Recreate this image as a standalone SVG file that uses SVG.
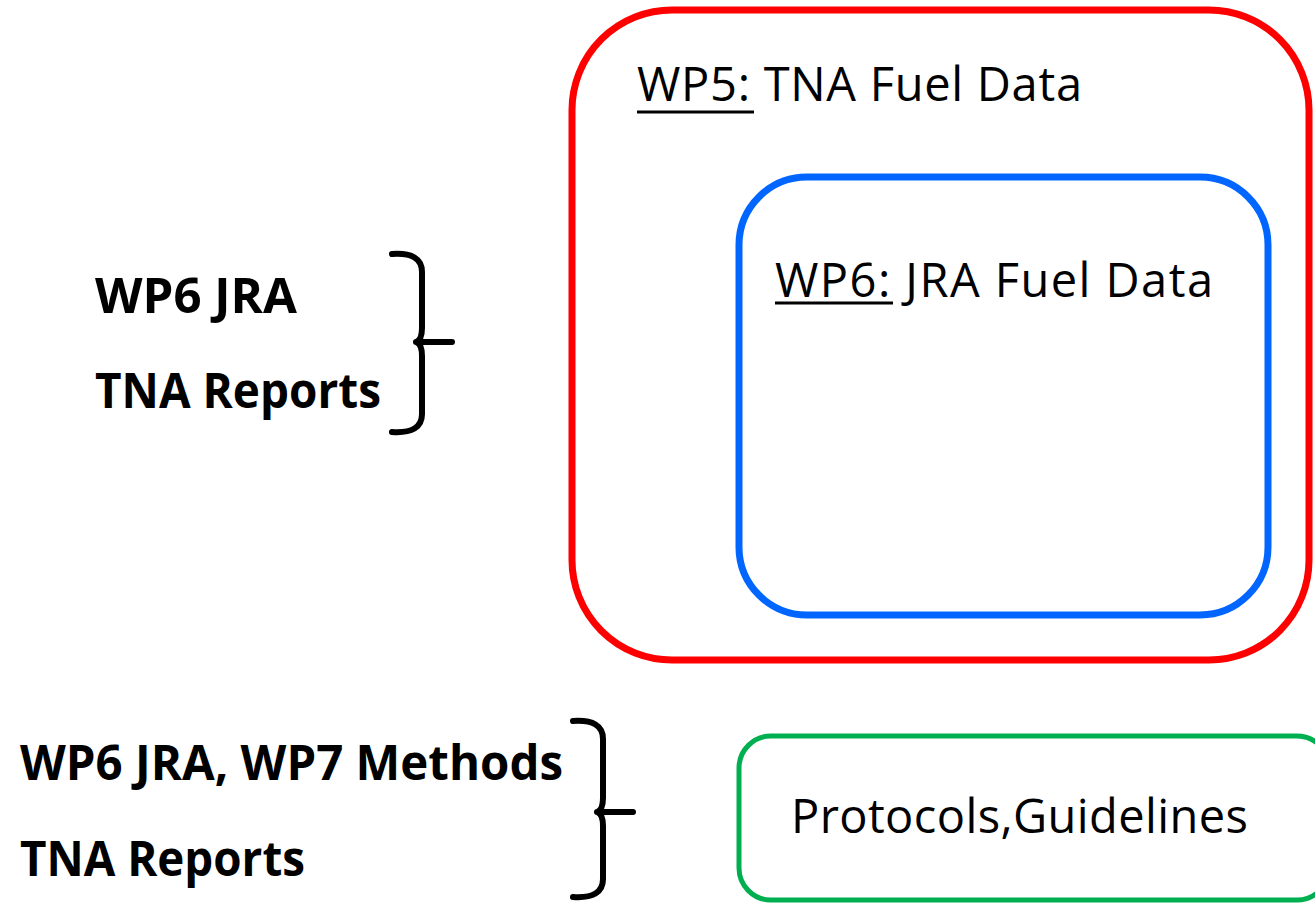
<svg xmlns="http://www.w3.org/2000/svg" width="1315" height="903" viewBox="0 0 1315 903">
  <style>
    .t { font-family: "Open Sans", "Noto Sans", sans-serif; font-size: 47px; fill: #000; }
    .b { font-family: "Open Sans", "Noto Sans", sans-serif; font-size: 48px; font-weight: bold; fill: #000; }
    .brace { fill: none; stroke: #000; stroke-width: 6; stroke-linecap: round; stroke-linejoin: round; }
    .u { stroke: #000; stroke-width: 3; }
  </style>
  <rect width="1315" height="903" fill="#fff"/>
  <g id="wp5">
    <rect x="572" y="10" width="737" height="650" rx="100" ry="100" fill="none" stroke="#ff0000" stroke-width="7"/>
    <text class="t" x="637" y="101" textLength="445" lengthAdjust="spacing">WP5: TNA Fuel Data</text>
    <line class="u" x1="637" y1="112" x2="754" y2="112"/>
  </g>
  <g id="wp6">
    <rect x="739" y="177" width="529" height="438" rx="68" ry="68" fill="none" stroke="#0066ff" stroke-width="7"/>
    <text class="t" x="775" y="297" textLength="438" lengthAdjust="spacing">WP6: JRA Fuel Data</text>
    <line class="u" x1="775" y1="303" x2="893" y2="303"/>
  </g>
  <g id="protocols">
    <rect x="739" y="736" width="590" height="164" rx="32" ry="32" fill="none" stroke="#00b050" stroke-width="5"/>
    <text class="t" x="791" y="833" textLength="457" lengthAdjust="spacing">Protocols,Guidelines</text>
  </g>
  <g id="inputs1">
    <text class="b" x="95" y="313" textLength="202" lengthAdjust="spacingAndGlyphs">WP6 JRA</text>
    <text class="b" x="95" y="408" textLength="286" lengthAdjust="spacingAndGlyphs">TNA Reports</text>
  </g>
  <g id="inputs2">
    <text class="b" x="20" y="780" textLength="543" lengthAdjust="spacingAndGlyphs">WP6 JRA, WP7 Methods</text>
    <text class="b" x="20" y="876" textLength="285" lengthAdjust="spacingAndGlyphs">TNA Reports</text>
  </g>
  <g id="connectors">
    <path class="brace" d="M392,254 Q422,252 422,272 L422,328 Q422,340 416,342 Q422,344 422,356 L422,414 Q422,434 392,432 M416,342 L452,342"/>
    <path class="brace" d="M573,721 Q603,719 603,739 L603,798 Q603,810 597,812 Q603,814 603,826 L603,879 Q603,899 573,897 M597,812 L633,812"/>
  </g>
</svg>
